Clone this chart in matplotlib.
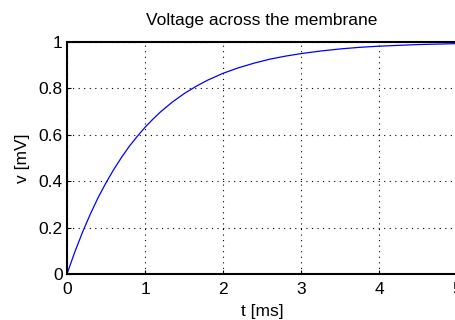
import matplotlib
matplotlib.use("Agg")
import matplotlib.pyplot as plt

# values
t_ms = [0, 0.1, 0.2, 0.3, 0.4, 0.5, 0.6, 0.7, 0.8, 0.9, 1, 1.1, 1.2, 1.35, 1.5, 1.65, 1.8,
        2, 2.2, 2.4, 2.6, 2.8, 3, 3.25, 3.5, 3.75, 4, 4.5, 5]
v_mV = [0, 0.095, 0.181, 0.259, 0.33, 0.393, 0.451, 0.503, 0.551, 0.593, 0.632, 0.667,
        0.699, 0.741, 0.777, 0.808, 0.835, 0.865, 0.889, 0.909, 0.926, 0.939, 0.95,
        0.961, 0.97, 0.977, 0.982, 0.989, 0.993]

x_ticks = [0, 1, 2, 3, 4, 5]
y_ticks = [0, 0.2, 0.4, 0.6, 0.8, 1]
y_tick_labels = ["0", "0.2", "0.4", "0.6", "0.8", "1"]

plt.rcParams["font.family"] = ["Liberation Sans", "DejaVu Sans"]
plt.rcParams["font.size"] = 12.5

fig = plt.figure(figsize=(4.55, 3.2), dpi=100)
ax = fig.add_axes([67 / 455, 46 / 320, 390 / 455, 232 / 320])

ax.plot(t_ms, v_mV, color="blue", linewidth=0.9)

ax.set_xlim(0, 5)
ax.set_ylim(0, 1)
ax.set_xticks(x_ticks)
ax.set_yticks(y_ticks)
ax.set_yticklabels(y_tick_labels)
ax.tick_params(direction="in", length=3, width=0.8)
ax.tick_params(axis="x", pad=6)
ax.tick_params(axis="y", pad=3)
ax.grid(True, color="black", linestyle=(0, (1, 4)), linewidth=0.8)
for s in ax.spines.values():
    s.set_linewidth(1.5)

ax.set_title("Voltage across the membrane", fontsize=12.5, pad=12)
ax.set_xlabel("t [ms]", labelpad=5)
ax.set_ylabel("v [mV]", labelpad=6)

fig.savefig("out.png", dpi=100)
